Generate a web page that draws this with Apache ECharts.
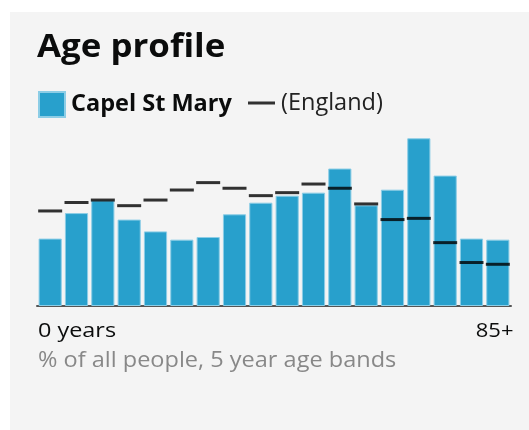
<!DOCTYPE html>
<html>
<head>
<meta charset="utf-8">
<script src="https://cdn.jsdelivr.net/npm/echarts@6/dist/echarts.min.js"></script>
<style>
html,body{margin:0;padding:0;background:#fff;}
#chart{width:529px;height:430px;}
</style>
</head>
<body>
<div id="chart"></div>
<script>
const categories = ['0–4','5–9','10–14','15–19','20–24','25–29','30–34','35–39','40–44','45–49','50–54','55–59','60–64','65–69','70–74','75–79','80–84','85+'];
const capelStMary = [3.83,5.28,6.00,4.91,4.24,3.77,3.92,5.21,5.87,6.27,6.44,7.81,5.72,6.61,9.53,7.41,3.83,3.77];
const england = [5.40,5.88,6.02,5.70,6.02,6.59,7.01,6.69,6.27,6.44,6.93,6.69,5.80,4.91,4.98,3.60,2.47,2.37];
const axisEndLabels = ['0 years','85+'];
const titleText = 'Age profile';
const subtitleText = '% of all people, 5 year age bands';
const areaName = 'Capel St Mary';
const compareName = '(England)';

const FONT = '"Open Sans", sans-serif';
function txt(text, x, y, size, weight, color, sx, align) {
  return {
    type: 'text', x: x, y: y, scaleX: sx, z: 10, silent: true,
    style: {text: text, fontFamily: FONT, fontSize: size, fontWeight: weight,
            fill: color, verticalAlign: 'top', align: align || 'left'}
  };
}
const chart = echarts.init(document.getElementById('chart'), null, {renderer:'canvas'});
chart.setOption({
  backgroundColor: '#ffffff',
  animation: false,
  graphic: [
    {type: 'rect', z: -10, silent: true,
     shape: {x: 10, y: 12, width: 530, height: 430},
     style: {fill: '#f4f4f4'}},
    txt(titleText, 37, 32.2, 32, 'bold', '#0b0c0c', 1.09),
    txt(axisEndLabels[0], 38, 321, 20, 'normal', '#0b0c0c', 1.17),
    txt(axisEndLabels[1], 513.5, 321, 20, 'normal', '#0b0c0c', 1.1, 'right'),
    txt(subtitleText, 38, 351, 21, 'normal', '#888888', 1.12)
  ],
  legend: [
    {data: [areaName], left: 38, top: 91, itemWidth: 26, itemHeight: 25,
     icon: 'rect', padding: 0,
     textStyle: {fontFamily: FONT, fontWeight: 'bold', fontSize: 23.5, color: '#0b0c0c', padding: [0,0,0,1]}},
    {data: [compareName], left: 248, top: 91, itemWidth: 27, itemHeight: 25,
     icon: 'path://M0,10h27v3h-27z', padding: 0,
     textStyle: {fontFamily: FONT, fontWeight: 'normal', fontSize: 23.5, color: '#222222', padding: [0,0,0,1]}}
  ],
  grid: {left: 37, right: 18, top: 130, bottom: 124},
  xAxis: {
    type: 'category', data: categories,
    axisLine: {show: true, lineStyle: {color: '#555555', width: 2}},
    axisTick: {show: false}, axisLabel: {show: false}
  },
  yAxis: {type: 'value', min: 0, max: 10, show: false, splitLine: {show: false}},
  series: [
    {name: areaName, type: 'bar', data: capelStMary, barCategoryGap: '12%',
     itemStyle: {color: '#28a0cc', borderColor: '#8ccde6', borderWidth: 1}, z: 2},
    {name: compareName, type: 'scatter', data: england, symbol: 'rect',
     symbolSize: [24, 3], itemStyle: {color: '#000000'}, z: 5}
  ]
});
</script>
</body>
</html>
